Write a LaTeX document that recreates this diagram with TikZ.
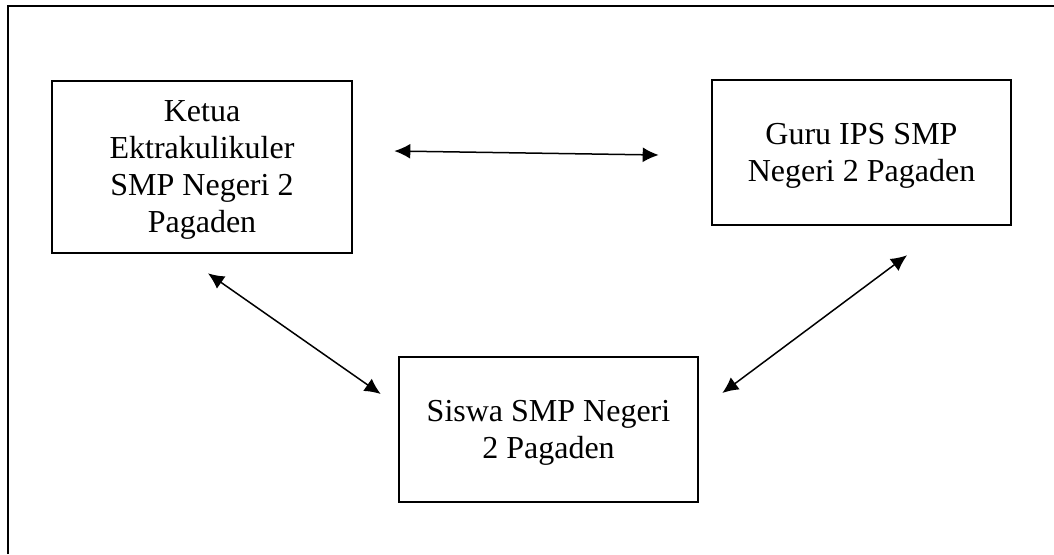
\documentclass[tikz,border=0pt]{standalone}
\usepackage{fontspec}
\setmainfont{Liberation Serif}
\usetikzlibrary{arrows.meta}
\begin{document}
\begin{tikzpicture}[x=0.5pt, y=-0.5pt,
  box/.style = {draw, line width=1.3pt, align=center, inner sep=0pt, text depth=0pt,
    font=\fontsize{16}{18.5}\selectfont},
  arr/.style = {{Latex[length=8pt,width=7.5pt]}-{Latex[length=8pt,width=7.5pt]}, line width=0.75pt}]
\useasboundingbox (0,0) rectangle (1054,554);
\draw[line width=1.1pt] (8,554) -- (8,6) -- (1054,6);
\node[box, minimum width=150pt, minimum height=86pt] (ketua) at (202,167) {Ketua\\Ektrakulikuler\\SMP Negeri 2\\Pagaden};
\node[box, minimum width=149.5pt, minimum height=72.5pt] (guru) at (861.5,152.5) {Guru IPS SMP\\Negeri 2 Pagaden};
\node[box, minimum width=149.5pt, minimum height=72.5pt] (siswa) at (548.5,429.5) {Siswa SMP Negeri\\2 Pagaden};
\draw[arr] ([shift={(41,-16)}]ketua.east) -- ([shift={(-52,2.5)}]guru.west);
\draw[arr] ([shift={(6,19)}]ketua.south) -- ([shift={(-17,-35.5)}]siswa.west);
\draw[arr] ([shift={(45.5,29)}]guru.south) -- ([shift={(23,-36.5)}]siswa.east);
\end{tikzpicture}
\end{document}
